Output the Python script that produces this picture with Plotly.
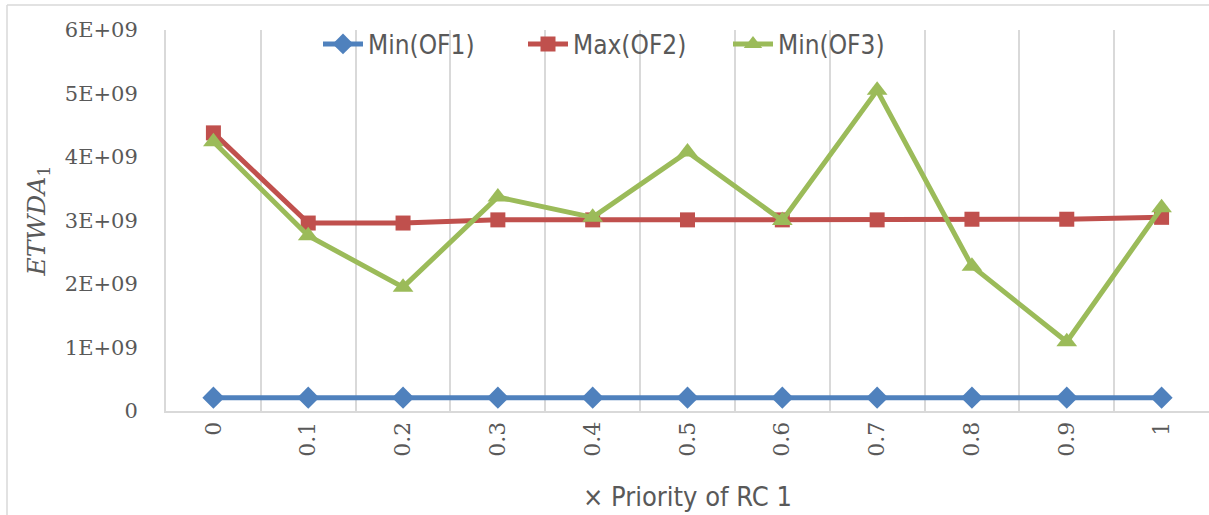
import plotly.graph_objects as go

categories = ["0", "0.1", "0.2", "0.3", "0.4", "0.5", "0.6", "0.7", "0.8", "0.9", "1"]
min_of1 = [2.1e8, 2.1e8, 2.1e8, 2.1e8, 2.1e8, 2.1e8, 2.1e8, 2.1e8, 2.1e8, 2.1e8, 2.1e8]
max_of2 = [4.38e9, 2.96e9, 2.96e9, 3.01e9, 3.01e9, 3.01e9, 3.01e9, 3.01e9, 3.02e9, 3.02e9, 3.05e9]
min_of3 = [4.24e9, 2.76e9, 1.95e9, 3.37e9, 3.05e9, 4.08e9, 3.0e9, 5.05e9, 2.28e9, 1.09e9, 3.2e9]
y_tickvals = [0, 1e9, 2e9, 3e9, 4e9, 5e9, 6e9]
y_ticktext = ["0", "1E+09", "2E+09", "3E+09", "4E+09", "5E+09", "6E+09"]

W, H = 1209, 515
L, R, T, B = 166, 0, 30, 104

fig = go.Figure()
series = [
    ("Min(OF1)", min_of1, "#4F81BD", "diamond", 17),
    ("Max(OF2)", max_of2, "#C0504D", "square", 15),
    ("Min(OF3)", min_of3, "#9BBB59", "triangle-up", 18),
]
for name, vals, col, sym, sz in series:
    fig.add_trace(go.Scatter(
        x=categories, y=vals, name=name, mode="lines+markers",
        line=dict(color=col, width=5),
        marker=dict(symbol=sym, size=sz, color=col),
    ))

pw = W - L - R
ph = H - T - B
grey = "#d9d9d9"
narrow = "Liberation Sans Narrow, DejaVu Sans Condensed, Liberation Sans"
fig.update_layout(
    width=W, height=H,
    margin=dict(l=L, r=R, t=T, b=B, pad=0),
    paper_bgcolor="white", plot_bgcolor="white",
    font=dict(family="DejaVu Serif", color="#595959", size=20),
    showlegend=True,
    legend=dict(
        orientation="h", x=(318 - L) / pw, y=(H - B - 44) / ph,
        xanchor="left", yanchor="middle",
        font=dict(family=narrow, size=26, color="#595959"),
        bgcolor="rgba(0,0,0,0)", itemwidth=40, tracegroupgap=0,
        entrywidth=150, entrywidthmode="pixels",
    ),
    xaxis=dict(
        type="category", range=[-0.5, 10.5], autorange=False, automargin=False,
        tickson="boundaries", showgrid=True, gridcolor=grey, gridwidth=1.5,
        showline=True, linecolor=grey, linewidth=2, ticks="", tickangle=-90,
        tickfont=dict(family="DejaVu Serif", size=22, color="#595959"),
        title=dict(text="× Priority of RC 1", standoff=31,
                   font=dict(family=narrow, size=27, color="#595959")),
        zeroline=False,
    ),
    yaxis=dict(
        range=[0, 6e9], autorange=False, automargin=False,
        tickvals=y_tickvals, ticktext=y_ticktext, showgrid=False,
        showline=True, linecolor=grey, linewidth=2, ticks="", ticklabelstandoff=22,
        tickfont=dict(family="DejaVu Serif", size=21, color="#595959"),
        title=dict(text="<i>ETWDA</i><sub>1</sub>", standoff=12,
                   font=dict(family="DejaVu Serif", size=25, color="#595959")),
        zeroline=False,
    ),
    shapes=[
        dict(type="line", xref="paper", yref="paper",
             x0=(7 - L) / pw, x1=(W + 5 - L) / pw, y0=(H - B - 5) / ph, y1=(H - B - 5) / ph,
             line=dict(color=grey, width=1.5)),
        dict(type="line", xref="paper", yref="paper",
             x0=(7 - L) / pw, x1=(7 - L) / pw, y0=(H - B - 5) / ph, y1=-(B + 5) / ph,
             line=dict(color=grey, width=1.5)),
    ],
)

fig.write_html("out.html", config={"displayModeBar": False},
               post_script="document.body.style.margin='0';document.body.style.overflow='hidden';")
